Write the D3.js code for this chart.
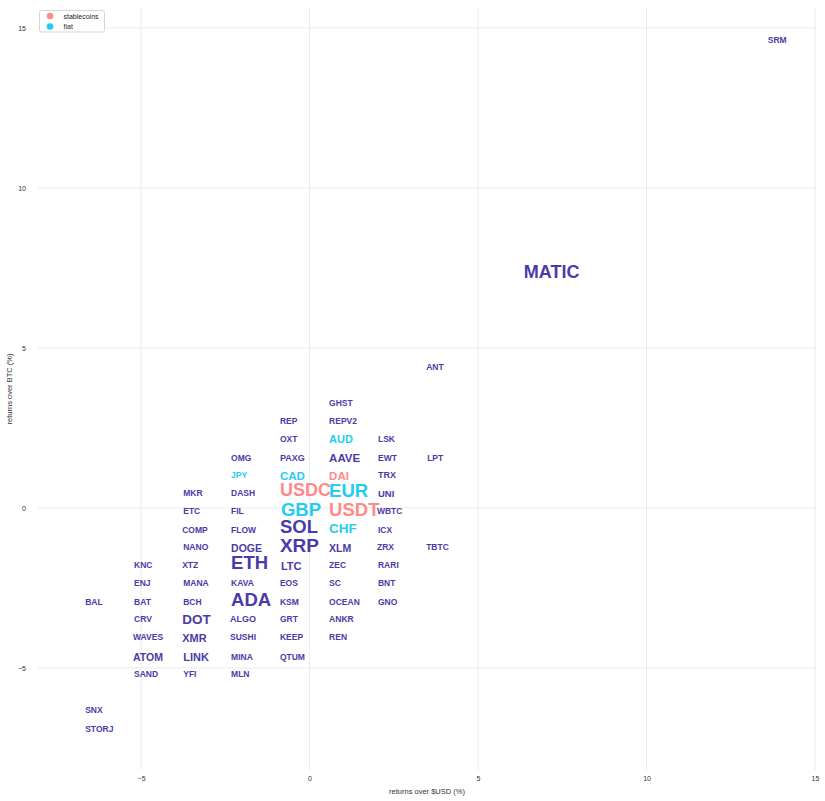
<!DOCTYPE html>
<html>
<head>
<meta charset="utf-8">
<script src="https://cdn.jsdelivr.net/npm/d3@7"></script>
<style>
  body { margin: 0; background: #fff; }
  svg { display: block; }
  text { font-family: "Liberation Sans", Arial, Helvetica, sans-serif; }
</style>
</head>
<body>
<svg id="chart" width="825" height="801"></svg>
<script>
// ---- data ----
const labels = [
  "BAL","SNX","STORJ",
  "KNC","ENJ","BAT","CRV","WAVES","ATOM","SAND",
  "MKR","ETC","COMP","NANO","XTZ","MANA","BCH","DOT","XMR","LINK","YFI",
  "OMG","JPY","DASH","FIL","FLOW","DOGE","ETH","KAVA","ADA","ALGO","SUSHI","MINA","MLN",
  "REP","OXT","PAXG","CAD","USDC","GBP","SOL","XRP","LTC","EOS","KSM","GRT","KEEP","QTUM",
  "GHST","REPV2","AUD","AAVE","DAI","EUR","USDT","CHF","XLM","ZEC","SC","OCEAN","ANKR","REN",
  "LSK","EWT","TRX","UNI","WBTC","ICX","ZRX","RARI","BNT","GNO",
  "ANT","LPT","TBTC",
  "MATIC","SRM"
];
// returns over $USD (%)
const usdReturns = [
  -6.66,-6.66,-6.66,
  -5.21,-5.21,-5.21,-5.21,-5.24,-5.24,-5.21,
  -3.75,-3.75,-3.78,-3.75,-3.78,-3.75,-3.75,-3.78,-3.78,-3.75,-3.75,
  -2.33,-2.33,-2.33,-2.33,-2.33,-2.33,-2.33,-2.33,-2.33,-2.36,-2.36,-2.33,-2.33,
  -0.88,-0.88,-0.88,-0.88,-0.88,-0.85,-0.88,-0.88,-0.85,-0.88,-0.88,-0.88,-0.88,-0.88,
  0.58,0.58,0.58,0.58,0.58,0.58,0.58,0.58,0.58,0.58,0.58,0.58,0.58,0.58,
  2.03,2.03,2.03,2.03,2.00,2.03,2.00,2.03,2.03,2.03,
  3.46,3.49,3.46,
  6.36,13.60
];
// returns over BTC (%)
const btcReturns = [
  -2.91,-6.31,-6.88,
  -1.78,-2.34,-2.91,-3.47,-4.03,-4.63,-5.19,
  0.47,-0.09,-0.66,-1.22,-1.78,-2.34,-2.91,-3.46,-4.03,-4.63,-5.19,
  1.59,1.03,0.47,-0.09,-0.66,-1.22,-1.67,-2.34,-2.82,-3.47,-4.03,-4.63,-5.19,
  2.72,2.16,1.59,1.03,0.59,-0.01,-0.56,-1.13,-1.78,-2.34,-2.91,-3.47,-4.03,-4.63,
  3.28,2.72,2.16,1.59,1.03,0.59,-0.01,-0.61,-1.22,-1.78,-2.34,-2.91,-3.47,-4.03,
  2.16,1.59,1.03,0.47,-0.09,-0.66,-1.22,-1.78,-2.34,-2.91,
  4.41,1.59,-1.22,
  7.40,14.63
];
// relative label weight (market-size driven font size)
const labelSize = [
  8.5,8.5,8.5,
  8.5,8.5,8.5,8.5,8.5,10.5,8.5,
  8.5,8.5,8.5,8.5,8.5,8.5,8.5,13.5,11,11,8.5,
  8.5,8.5,8.5,8.5,8.5,10.5,18.5,8.5,18.5,9,8.5,8.5,8.5,
  8.5,8.5,9,11.5,18,18.5,18.5,19,11,8.5,8.5,8.5,8.5,8.5,
  8.5,8.5,11,11.5,11.5,18.5,18.5,13.5,10.5,8.5,8.5,8.5,8.5,8.5,
  8.5,8.5,9,9.5,8.5,8.5,8.5,8.5,8.5,8.5,
  8.5,8.5,8.5,
  18,8.5
];
const stablecoins = ["USDC","USDT","DAI"];
const fiat = ["AUD","JPY","CAD","EUR","GBP","CHF"];
const xTicks = [-5, 0, 5, 10, 15];
const yTicks = [-5, 0, 5, 10, 15];
const legendItems = ["stablecoins", "fiat"];

// ---- layout ----
const colors = { stablecoins: "#ff8a8a", fiat: "#22cdf0", other: "#4b3ba8" };
const svg = d3.select("#chart");
const plot = { left: 38, right: 816, top: 8, bottom: 770 };

const x = d3.scaleLinear().domain([-8.06, 15.03]).range([plot.left, plot.right]);
const y = d3.scaleLinear().domain([-8.19, 15.62]).range([plot.bottom, plot.top]);

// grid
const g = svg.append("g");
g.selectAll("line.vx").data(xTicks).join("line")
  .attr("x1", d => x(d)).attr("x2", d => x(d))
  .attr("y1", plot.top).attr("y2", plot.bottom)
  .attr("stroke", "#ebebeb").attr("stroke-width", 1);
g.selectAll("line.hy").data(yTicks).join("line")
  .attr("y1", d => y(d)).attr("y2", d => y(d))
  .attr("x1", plot.left).attr("x2", plot.right)
  .attr("stroke", "#ebebeb").attr("stroke-width", 1);

// axes (tick labels only)
const fmt = d => d < 0 ? "\u2212" + Math.abs(d) : String(d);
const xAxis = d3.axisBottom(x).tickValues(xTicks).tickFormat(fmt).tickSize(0).tickPadding(6);
const yAxis = d3.axisLeft(y).tickValues(yTicks).tickFormat(fmt).tickSize(0).tickPadding(12);
const xa = svg.append("g").attr("transform", `translate(0,${plot.bottom})`).call(xAxis);
const ya = svg.append("g").attr("transform", `translate(${plot.left},0)`).call(yAxis);
[xa, ya].forEach(a => {
  a.select(".domain").remove();
  a.selectAll("text").attr("fill", "#333").attr("font-size", 7)
    .attr("font-family", "'Liberation Sans', Arial, sans-serif");
});

svg.append("text").attr("x", (plot.left + plot.right) / 2).attr("y", 794)
  .attr("text-anchor", "middle").attr("font-size", 7.5).attr("fill", "#333")
  .text("returns over $USD (%)");
svg.append("text")
  .attr("transform", `translate(12,${(plot.top + plot.bottom) / 2}) rotate(-90)`)
  .attr("text-anchor", "middle").attr("font-size", 7.5).attr("fill", "#333")
  .text("returns over BTC (%)");

// labels
const data = labels.map((l, i) => ({
  label: l, xv: usdReturns[i], yv: btcReturns[i], size: labelSize[i],
  group: stablecoins.includes(l) ? "stablecoins" : fiat.includes(l) ? "fiat" : "other"
}));
svg.append("g").selectAll("text").data(data).join("text")
  .attr("x", d => x(d.xv)).attr("y", d => y(d.yv))
  .attr("dominant-baseline", "central")
  .attr("dy", "0.06em")
  .attr("font-size", d => d.size).attr("font-weight", "bold")
  .attr("fill", d => colors[d.group])
  .text(d => d.label);

// legend
const lg = svg.append("g");
lg.append("rect").attr("x", 39.5).attr("y", 10.5).attr("width", 65).attr("height", 21.5)
  .attr("rx", 2).attr("fill", "#fff").attr("stroke", "#cccccc").attr("stroke-width", 0.8);
legendItems.forEach((name, i) => {
  lg.append("circle").attr("cx", 50).attr("cy", 16 + i * 10.5).attr("r", 3.3)
    .attr("fill", colors[name]);
  lg.append("text").attr("x", 63.5).attr("y", 16 + i * 10.5)
    .attr("dominant-baseline", "central").attr("font-size", 7).attr("fill", "#222")
    .text(name);
});
</script>
</body>
</html>
